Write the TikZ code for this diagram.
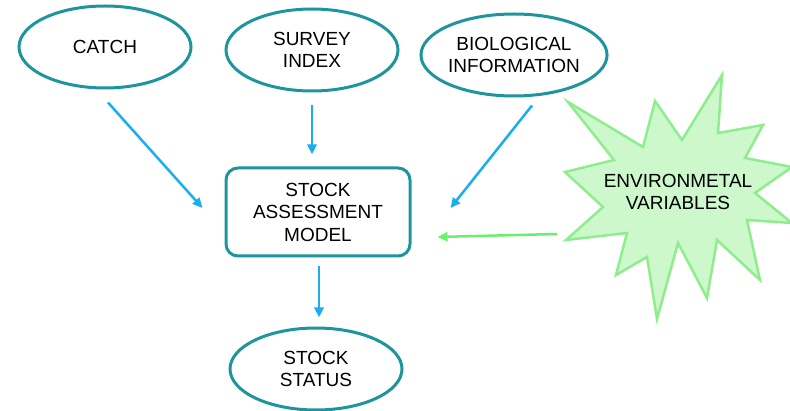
\documentclass[tikz,border=0pt]{standalone}
\usepackage{fontspec}
\setmainfont{Liberation Sans}
\usetikzlibrary{shapes.geometric,arrows.meta}
\definecolor{rim}{HTML}{1E959C}
\definecolor{flowblue}{HTML}{1AAEEE}
\definecolor{flowgreen}{HTML}{6AF06A}
\definecolor{starfill}{HTML}{CCF8CC}
\definecolor{starline}{HTML}{8EEE8E}
\tikzset{
  every node/.style={font=\fontsize{19}{22.5}\selectfont, align=center, text=black},
  oval/.style={ellipse, draw=rim, line width=3pt, minimum width=172pt, minimum height=82pt, inner sep=0pt},
  modelbox/.style={rectangle, rounded corners=12pt, draw=rim, line width=3pt, minimum width=184pt, minimum height=88pt, inner sep=0pt},
  flow/.style={draw=flowblue, line width=2.5pt, -{Triangle[length=10pt,width=9pt]}},
  gflow/.style={draw=flowgreen, line width=2.5pt, -{Triangle[length=10pt,width=9pt]}},
}
\begin{document}
\begin{tikzpicture}[x=1pt,y=-1pt]
  \useasboundingbox (0,0) rectangle (790,411);
  \clip (0,0) rectangle (790,411);

  % burst shape for the environmental variables
  \draw[fill=starfill, draw=starline, line width=2.5pt, line join=miter]
    (568,102) -- (643,147) -- (655,101) -- (682,140) -- (722,75) -- (718,133)
    -- (763,125) -- (745,158) -- (792,167) -- (755,193) -- (792,223) -- (747,220)
    -- (760,280) -- (717,240) -- (707,298) -- (678,243) -- (657,319) -- (647,257)
    -- (616,275) -- (627,233) -- (566,240) -- (603,207) -- (565,172) -- (614,160) -- cycle;
  \node (env) at (678,192) {ENVIRONMETAL\\VARIABLES};

  % input nodes
  \node[oval] (catch) at (105,47) {CATCH};
  \node[oval] (survey) at (312,50) {SURVEY\\INDEX};
  \node[oval] (bio) at (514,55) {BIOLOGICAL\\INFORMATION};

  % model and output
  \node[modelbox] (model) at (318,212) {STOCK\\ASSESSMENT\\MODEL};
  \node[oval] (status) at (316,369) {STOCK\\STATUS};

  \coordinate (envout) at (557,234);

  % connectors
  \draw[flow] ([xshift=3pt,yshift=-13pt]catch.south) -- ([xshift=-22pt,yshift=4pt]model.west);
  \draw[flow] ([yshift=-13pt]survey.south) -- ([xshift=-6pt,yshift=12pt]model.north);
  \draw[flow] ([xshift=18pt,yshift=-8pt]bio.south) -- ([xshift=39pt,yshift=4pt]model.east);
  \draw[gflow] (envout) -- ([xshift=26pt,yshift=-25pt]model.east);
  \draw[flow] ([xshift=1pt,yshift=-9pt]model.south) -- ([xshift=3pt,yshift=9pt]status.north);
\end{tikzpicture}
\end{document}
